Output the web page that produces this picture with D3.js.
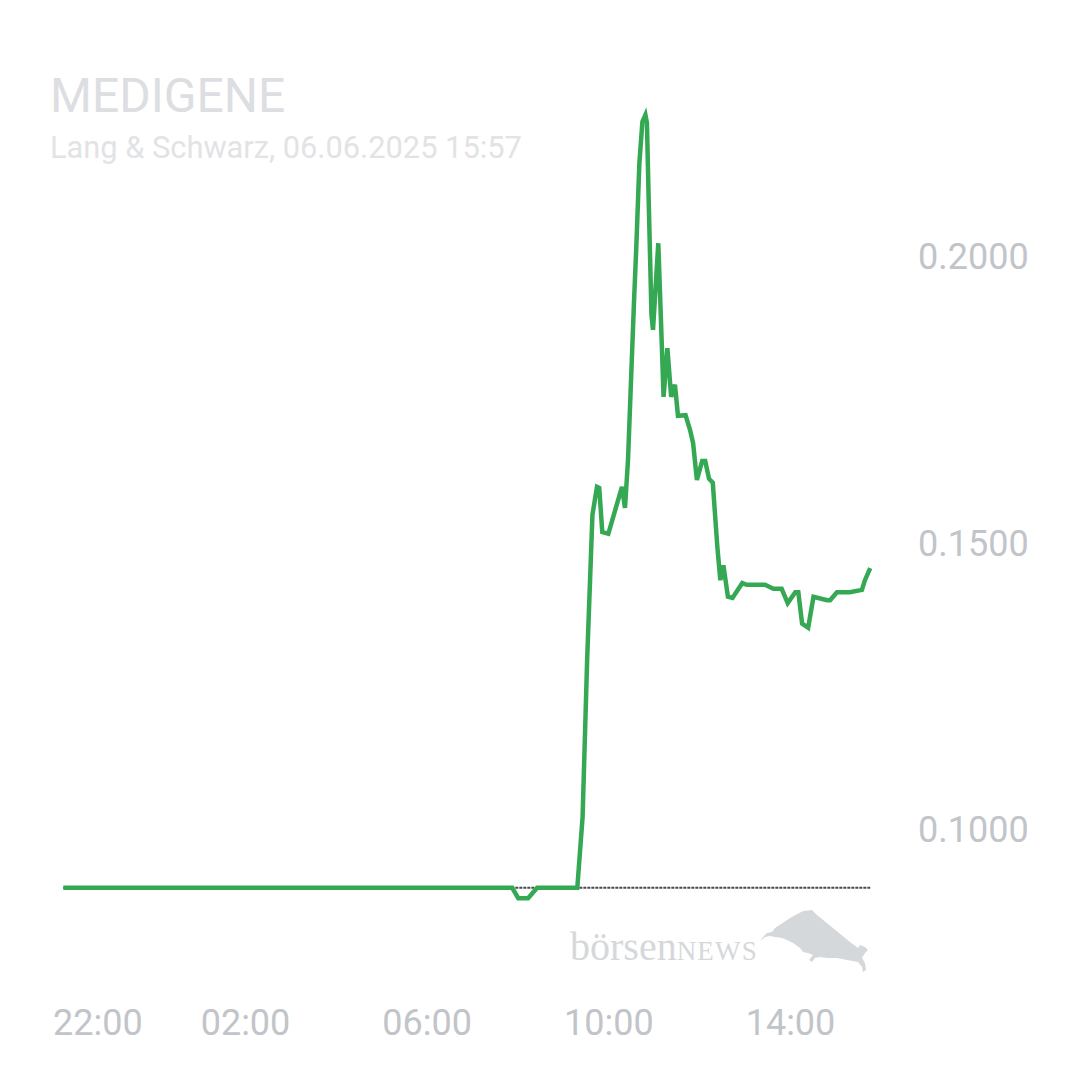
<!DOCTYPE html>
<html>
<head>
<meta charset="utf-8">
<script src="https://cdn.jsdelivr.net/npm/d3@7"></script>
<style>
  html, body { margin: 0; padding: 0; background: #ffffff; }
  svg { display: block; }
  text { font-family: Roboto, "Noto Sans", sans-serif; }
</style>
</head>
<body>
<svg id="chart" width="1080" height="1080"></svg>
<script>
// ---- Data ----
const title = "MEDIGENE";
const subtitle = "Lang & Schwarz, 06.06.2025 15:57";
const previousClose = 0.0899;

const times = [
  "22:00","07:53","08:01","08:14","08:26","09:19","09:26","09:32","09:39","09:45",
  "09:48","09:52","10:00","10:18","10:22","10:26","10:34","10:37","10:41","10:45",
  "10:49","10:51","10:53","10:57","10:59","11:06","11:13","11:18","11:23","11:28",
  "11:32","11:42","11:48","11:52","11:57","12:04","12:08","12:13","12:18","12:24",
  "12:28","12:32","12:38","12:44","12:57","13:03","13:27","13:38","13:49","13:57",
  "14:07","14:11","14:16","14:24","14:31","14:49","14:53","15:02","15:19","15:35",
  "15:39","15:46"
];
const prices = [
  0.0899,0.0899,0.0881,0.0881,0.0899,0.0899,0.1023,0.1297,0.1550,0.1599,
  0.1597,0.1520,0.1517,0.1599,0.1562,0.1646,0.1925,0.2019,0.2164,0.2236,
  0.2248,0.2234,0.2117,0.1899,0.1873,0.2024,0.1756,0.1841,0.1756,0.1777,
  0.1723,0.1724,0.1698,0.1675,0.1611,0.1644,0.1644,0.1613,0.1606,0.1494,
  0.1436,0.1462,0.1407,0.1405,0.1431,0.1428,0.1428,0.1421,0.1421,0.1396,
  0.1415,0.1415,0.1360,0.1353,0.1407,0.1401,0.1401,0.1415,0.1415,0.1419,
  0.1436,0.1457
];
const yTicks = [0.1, 0.15, 0.2];
const xTickLabels = ["22:00","02:00","06:00","10:00","14:00"];

// ---- Helpers ----
function toHours(s) {
  const [h, m] = s.split(":").map(Number);
  let v = h + m / 60;
  if (v >= 20) v -= 24; // previous evening
  return v;
}
const data = times.map((t, i) => ({ t: toHours(t), v: prices[i] }));

// ---- Scales ----
const svg = d3.select("#chart");
const x = d3.scaleLinear().domain([2, 14]).range([245, 790]);
const y = d3.scaleLinear().domain([0.1, 0.2]).range([830, 257]);

const labelColor = "#c1c4c9";

// ---- Title ----
svg.append("text")
  .attr("x", 50).attr("y", 112)
  .attr("font-size", 48)
  .attr("fill", "#dcdee1")
  .text(title);
svg.append("text")
  .attr("x", 50).attr("y", 158)
  .attr("font-size", 30.8)
  .attr("fill", "#e2e3e5")
  .text(subtitle);

// ---- Watermark logo ----
const logo = svg.append("g").attr("fill", "#d5d8db");
const logoText = logo.append("text")
  .attr("x", 570).attr("y", 960)
  .style("font-family", "'Liberation Serif', 'DejaVu Serif', serif")
  .attr("font-size", 40);
logoText.append("tspan").text("börsen");
logoText.append("tspan").attr("font-size", 27).attr("letter-spacing", 1.2).text("NEWS");
logo.append("path")
  .attr("d", "M760,941 L765,937 L770,936 L775,937 L782,938 L787,940 L793,943 L800,948 L803,952 L808,953 L813,955 L809,960 L812,962 L815,958 L820,957 L827,958 L837,958 L847,960 L858,962 L862,967 L863,972 L866,970 L865,963 L862,958 L865,953 L868,950 L865,947 L860,945 L858,948 L850,942 L833,928 L817,915 L812,910 L803,911 L790,918 L775,928 L772,932 L767,933 L763,937 Z");

// ---- Y axis (right) ----
const yAxis = d3.axisRight(y).tickValues(yTicks).tickFormat(d3.format(".4f"))
  .tickSize(0).tickPadding(0);
const gy = svg.append("g").attr("transform", "translate(918,0)").call(yAxis);
gy.select(".domain").remove();
gy.selectAll("text")
  .attr("font-size", 36)
  .attr("font-family", "Roboto, sans-serif")
  .attr("fill", labelColor);

// ---- X axis (bottom) ----
const xTickValues = xTickLabels.map(toHours);
const xAxis = d3.axisBottom(x).tickValues(xTickValues)
  .tickFormat((d, i) => xTickLabels[i])
  .tickSize(0).tickPadding(0);
const gx = svg.append("g").attr("transform", "translate(0,1009)").call(xAxis);
gx.select(".domain").remove();
gx.selectAll("text")
  .attr("font-size", 36)
  .attr("font-family", "Roboto, sans-serif")
  .attr("fill", labelColor)
  .attr("dx", (d, i) => i === 0 ? 34 : 0);

// ---- Previous close reference line ----
const tExtent = d3.extent(data, d => d.t);
svg.append("line")
  .attr("x1", x(tExtent[0])).attr("x2", x(tExtent[1]))
  .attr("y1", y(previousClose)).attr("y2", y(previousClose))
  .attr("stroke", "#4a4a4a")
  .attr("stroke-width", 2)
  .attr("stroke-dasharray", "3,1");

// ---- Price line ----
const line = d3.line().x(d => x(d.t)).y(d => y(d.v));
svg.append("path")
  .datum(data)
  .attr("d", line)
  .attr("fill", "none")
  .attr("stroke", "#35a853")
  .attr("stroke-width", 4.5);
</script>
</body>
</html>
